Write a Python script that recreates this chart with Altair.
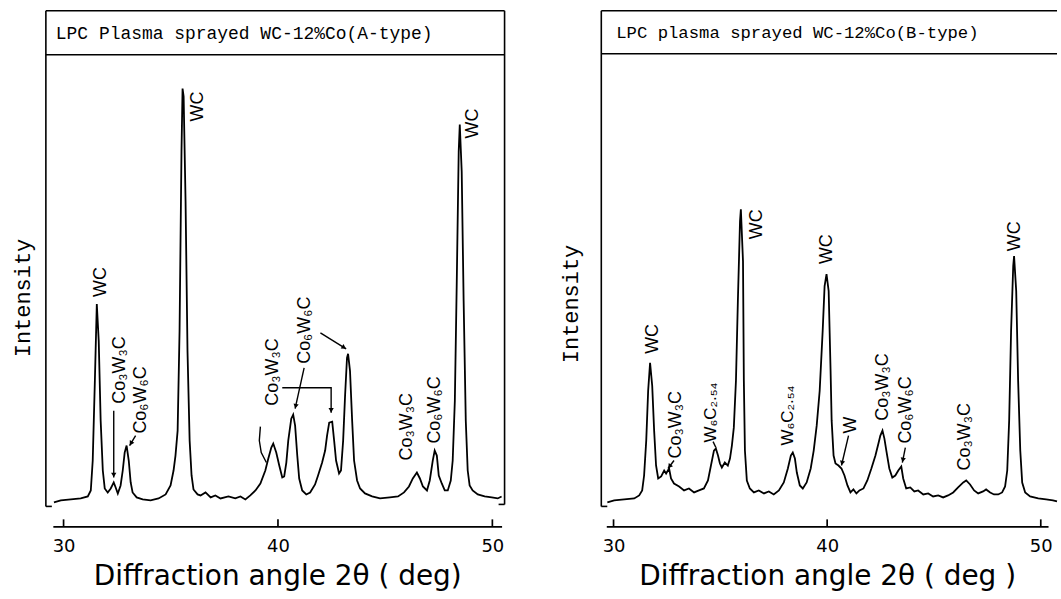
import math
import altair as alt
import pandas as pd

# ---------------- data ----------------
# Panel A trace: 2-theta (deg) and intensity (arbitrary units)
a_deg = [29.55, 29.87, 30.34, 30.80, 31.13, 31.27, 31.36, 31.46, 31.55, 31.64, 31.73, 31.83, 31.92,
         32.06, 32.20, 32.34, 32.43, 32.53, 32.66, 32.76, 32.85, 32.94, 33.04, 33.13, 33.22, 33.41,
         33.69, 34.06, 34.43, 34.76, 34.99, 35.13, 35.22, 35.32, 35.41, 35.50, 35.55, 35.60, 35.69,
         35.78, 35.88, 35.97, 36.06, 36.25, 36.39, 36.62, 36.86, 37.08, 37.32, 37.69, 38.01, 38.25,
         38.48, 38.71, 38.95, 39.18, 39.41, 39.55, 39.69, 39.78, 39.92, 40.06, 40.20, 40.29, 40.39,
         40.48, 40.62, 40.71, 40.80, 40.90, 40.99, 41.13, 41.32, 41.50, 41.73, 41.87, 42.06, 42.20,
         42.29, 42.39, 42.53, 42.62, 42.71, 42.85, 42.94, 43.04, 43.13, 43.22, 43.27, 43.36, 43.46,
         43.55, 43.69, 43.83, 44.06, 44.39, 44.76, 45.22, 45.60, 45.88, 46.11, 46.29, 46.48, 46.62,
         46.76, 46.95, 47.08, 47.22, 47.31, 47.41, 47.50, 47.64, 47.78, 47.92, 48.06, 48.15, 48.25,
         48.34, 48.43, 48.48, 48.57, 48.66, 48.76, 48.85, 48.94, 49.08, 49.32, 49.64, 49.97, 50.25,
         50.43]
a_int = [5, 7, 8, 9, 11, 17, 47, 127, 204, 167, 87, 37, 19,
         15, 19, 25, 20, 14, 22, 37, 55, 62, 47, 25, 15, 10,
         8, 7, 9, 13, 22, 37, 52, 77, 177, 357, 420, 412, 307,
         157, 67, 32, 18, 13, 12, 15, 10, 12, 9, 11, 9, 11,
         8, 12, 17, 24, 37, 49, 60, 64, 55, 42, 30, 31, 45,
         67, 89, 93, 82, 52, 29, 17, 13, 15, 23, 32, 45, 57,
         72, 85, 86, 67, 47, 34, 37, 67, 112, 150, 154, 137, 87,
         47, 27, 19, 14, 11, 9, 10, 11, 15, 21, 29, 35, 29,
         21, 17, 27, 47, 57, 52, 32, 24, 17, 17, 27, 47, 107,
         227, 357, 384, 337, 207, 87, 37, 22, 17, 13, 11, 10, 9,
         11]

# Panel B trace
b_deg = [29.71, 30.03, 30.50, 30.97, 31.20, 31.34, 31.43, 31.53, 31.62, 31.71, 31.81, 31.90, 31.99,
         32.09, 32.23, 32.37, 32.46, 32.60, 32.69, 32.83, 33.07, 33.30, 33.53, 33.77, 34.00, 34.23,
         34.42, 34.56, 34.70, 34.79, 34.89, 34.98, 35.07, 35.21, 35.35, 35.45, 35.54, 35.63, 35.73,
         35.82, 35.92, 35.96, 36.06, 36.10, 36.15, 36.24, 36.38, 36.57, 36.80, 37.04, 37.27, 37.50,
         37.74, 37.97, 38.16, 38.30, 38.39, 38.49, 38.58, 38.72, 38.86, 39.04, 39.23, 39.37, 39.51,
         39.65, 39.79, 39.88, 39.97, 40.07, 40.16, 40.21, 40.30, 40.39, 40.53, 40.67, 40.81, 40.95,
         41.09, 41.23, 41.37, 41.51, 41.70, 41.88, 42.07, 42.26, 42.40, 42.49, 42.59, 42.68, 42.77,
         42.91, 43.05, 43.19, 43.33, 43.47, 43.56, 43.70, 43.89, 44.08, 44.26, 44.50, 44.73, 44.96,
         45.20, 45.43, 45.66, 45.90, 46.13, 46.37, 46.51, 46.69, 46.88, 47.07, 47.30, 47.44, 47.63,
         47.81, 48.01, 48.19, 48.33, 48.43, 48.52, 48.61, 48.71, 48.75, 48.85, 48.94, 49.04, 49.13,
         49.27, 49.50, 49.88, 50.25, 50.57, 50.76]
b_int = [5, 7, 8, 9, 12, 17, 32, 67, 117, 145, 122, 77, 42,
         29, 31, 37, 34, 39, 29, 24, 21, 17, 19, 15, 17, 19,
         27, 42, 57, 59, 52, 44, 40, 45, 42, 49, 62, 80, 127,
         207, 287, 299, 247, 127, 57, 27, 19, 15, 17, 14, 16, 13,
         17, 25, 39, 52, 55, 49, 35, 22, 19, 25, 39, 57, 82,
         117, 177, 222, 234, 217, 137, 87, 52, 44, 42, 39, 32, 22,
         15, 18, 14, 17, 19, 27, 39, 52, 64, 72, 77, 69, 57,
         39, 30, 32, 37, 41, 29, 19, 20, 16, 17, 13, 14, 11,
         12, 10, 12, 15, 20, 25, 27, 23, 17, 14, 16, 18, 15,
         13, 13, 15, 21, 37, 87, 177, 242, 252, 217, 127, 57, 25,
         15, 11, 9, 8, 7, 6]

x_ticks = [30, 40, 50]

# Peak labels, panel A
a_lbl_text = ["WC", "Co₃W₃C", "Co₆W₆C", "WC", "Co₃W₃C", "Co₆W₆C", "Co₃W₃C", "Co₆W₆C", "WC"]
a_lbl_deg = [31.74, 32.62, 33.60, 36.26, 39.78, 41.27, 46.01, 47.31, 49.08]
a_lbl_int = [211, 104, 74, 387, 102, 144, 47, 64, 370]
a_sm_text = []
a_sm_deg = []
a_sm_int = []

# Peak labels, panel B
b_lbl_text = ["WC", "Co₃W₃C", "WC", "WC", "W", "Co₃W₃C", "Co₆W₆C", "Co₃W₃C", "WC"]
b_lbl_deg = [31.84, 32.91, 36.70, 39.97, 41.14, 42.63, 43.70, 46.46, 48.80]
b_lbl_int = [154, 49, 269, 244, 74, 87, 64, 37, 257]
b_sm_text = ["W₆C₂.₅₄", "W₆C₂.₅₄"]
b_sm_deg = [34.55, 38.19]
b_sm_int = [65, 62]

# Arrows (polylines in deg / intensity) and whether they carry an arrowhead
a_arrows = [
    [(32.34, 97), (32.34, 30)],
    [(33.36, 72), (33.08, 62)],
    [(39.18, 81), (39.13, 67), (39.22, 55), (39.46, 45)],
    [(40.20, 120), (42.48, 120), (42.48, 95)],
    [(41.22, 140), (40.80, 99)],
    [(41.98, 175), (43.18, 159)],
]
a_heads = [True, True, False, True, True, True]
b_arrows = [
    [(32.83, 47), (32.55, 39)],
    [(34.66, 66), (34.79, 60)],
    [(41.00, 72), (40.67, 42)],
    [(43.66, 60), (43.52, 45)],
]
b_heads = [True, False, True, True]

H = 498  # plot height (pixels), 1 intensity unit per pixel


def build(tr_deg, tr_int, lt, ld, li, st, sd, si, arrows, heads, xdom, width,
          title_text, title_x, title_size, sep_y, fl, fr, xtitle, ylab_y, ylab_x,
          right_side, anchor):
    ppd = width / (xdom[1] - xdom[0])
    xs = alt.Scale(domain=xdom, nice=False, zero=False)
    ys = alt.Scale(domain=[0, H], nice=False, zero=False)
    one = pd.DataFrame({"k": [0]})

    trace = pd.DataFrame({"deg": tr_deg, "I": tr_int})
    line = alt.Chart(trace).mark_line(color="black", strokeWidth=1.8).encode(
        x=alt.X("deg:Q", scale=xs, title=xtitle,
                axis=alt.Axis(offset=19, ticks=False, grid=False, values=x_ticks,
                              domainColor="black", domainWidth=1.7,
                              labelFont="DejaVu Sans", labelFontSize=18, labelColor="black",
                              labelPadding=11, labelFlush=False,
                              titleFont="DejaVu Sans", titleFontSize=28,
                              titleFontWeight="normal", titleColor="black", titlePadding=7)),
        y=alt.Y("I:Q", scale=ys, axis=None),
    )
    layers = [line]

    # axis ticks pointing upward
    tk = pd.DataFrame({"deg": x_ticks})
    layers.append(alt.Chart(tk).mark_rule(color="black", strokeWidth=1.7).encode(
        x=alt.X("deg:Q", scale=xs), y=alt.value(H + 12), y2=alt.value(H + 19)))

    # frame
    def rule(**kw):
        return alt.Chart(one).mark_rule(color="black", strokeWidth=1.6).encode(**kw)
    layers.append(rule(x=alt.value(fl), x2=alt.value(fr), y=alt.value(0)))
    layers.append(rule(x=alt.value(fl), x2=alt.value(fr), y=alt.value(sep_y)))
    layers.append(rule(x=alt.value(fl), y=alt.value(0), y2=alt.value(H - 1)))
    layers.append(rule(x=alt.value(fl), x2=alt.value(fl + 6), y=alt.value(H - 1)))
    if right_side:
        layers.append(rule(x=alt.value(fr), y=alt.value(0), y2=alt.value(H - 3)))
        layers.append(rule(x=alt.value(fr - 6), x2=alt.value(fr), y=alt.value(H - 3)))

    # title box text
    layers.append(alt.Chart(one).mark_text(
        align="left", baseline="middle", font="Liberation Mono", fontSize=title_size,
        color="black").encode(x=alt.value(title_x), y=alt.value(sep_y / 2 + 1),
                              text=alt.value(title_text)))
    # y label
    layers.append(alt.Chart(one).mark_text(
        align="center", baseline="middle", font="Liberation Mono", fontSize=22,
        angle=270, color="black").encode(x=alt.value(ylab_x), y=alt.value(ylab_y),
                                         text=alt.value("Intensity")))

    # peak labels
    lab = pd.DataFrame({"deg": ld, "I": li, "t": lt})
    layers.append(alt.Chart(lab).mark_text(
        align="left", baseline="middle", angle=270, font="Liberation Sans",
        fontSize=18, color="black").encode(
        x=alt.X("deg:Q", scale=xs), y=alt.Y("I:Q", scale=ys), text="t:N"))
    if st:
        sm = pd.DataFrame({"deg": sd, "I": si, "t": st})
        layers.append(alt.Chart(sm).mark_text(
            align="left", baseline="middle", angle=270, font="Liberation Sans",
            fontSize=17, color="black").encode(
            x=alt.X("deg:Q", scale=xs), y=alt.Y("I:Q", scale=ys), text="t:N"))

    # arrows
    rows, hrows = [], []
    for i, pts in enumerate(arrows):
        for k, (d, v) in enumerate(pts):
            rows.append({"id": i, "k": k, "deg": d, "I": v})
        if heads[i]:
            (d0, v0), (d1, v1) = pts[-2], pts[-1]
            dx = (d1 - d0) * ppd
            dy = -(v1 - v0)
            ln = math.hypot(dx, dy)
            ang = math.degrees(math.atan2(dx, -dy)) % 360
            back = 2.5
            cx = d1 - back * dx / ln / ppd
            cy = v1 + back * dy / ln
            hrows.append({"deg": cx, "I": cy, "ang": ang})
    adf = pd.DataFrame(rows)
    layers.append(alt.Chart(adf).mark_line(color="black", strokeWidth=1.4).encode(
        x=alt.X("deg:Q", scale=xs), y=alt.Y("I:Q", scale=ys),
        detail="id:N", order="k:Q"))
    if hrows:
        hdf = pd.DataFrame(hrows)
        layers.append(alt.Chart(hdf).mark_point(
            shape="triangle-up", filled=True, color="black", size=28, opacity=1).encode(
            x=alt.X("deg:Q", scale=xs), y=alt.Y("I:Q", scale=ys),
            angle=alt.Angle("ang:Q", scale=None)))

    if anchor:
        layers.append(alt.Chart(one).mark_point(
            filled=True, color="white", size=1, opacity=1).encode(
            x=alt.value(-52), y=alt.value(-9)))

    return alt.layer(*layers).properties(width=width, height=H)


left = build(a_deg, a_int, a_lbl_text, a_lbl_deg, a_lbl_int, a_sm_text, a_sm_deg, a_sm_int,
             a_arrows, a_heads, [29.5, 50.43], 450,
             "LPC Plasma sprayed WC-12%Co(A-type)", 3, 18, 44, -7, 453,
             "Diffraction angle 2θ ( deg)", 288, -30, True, True)
right = build(b_deg, b_int, b_lbl_text, b_lbl_deg, b_lbl_int, b_sm_text, b_sm_deg, b_sm_int,
              b_arrows, b_heads, [29.66, 50.34], 443,
              "LPC plasma sprayed WC-12%Co(B-type)", 10, 17.3, 43, -5, 452,
              "Diffraction angle 2θ ( deg )", 294, -35, False, False)

chart = alt.hconcat(left, right, spacing=105, bounds="flush").properties(
    padding=0, background="white"
).configure_view(strokeWidth=0)

chart.save("out.html", embed_options={"renderer": "svg", "actions": False})
